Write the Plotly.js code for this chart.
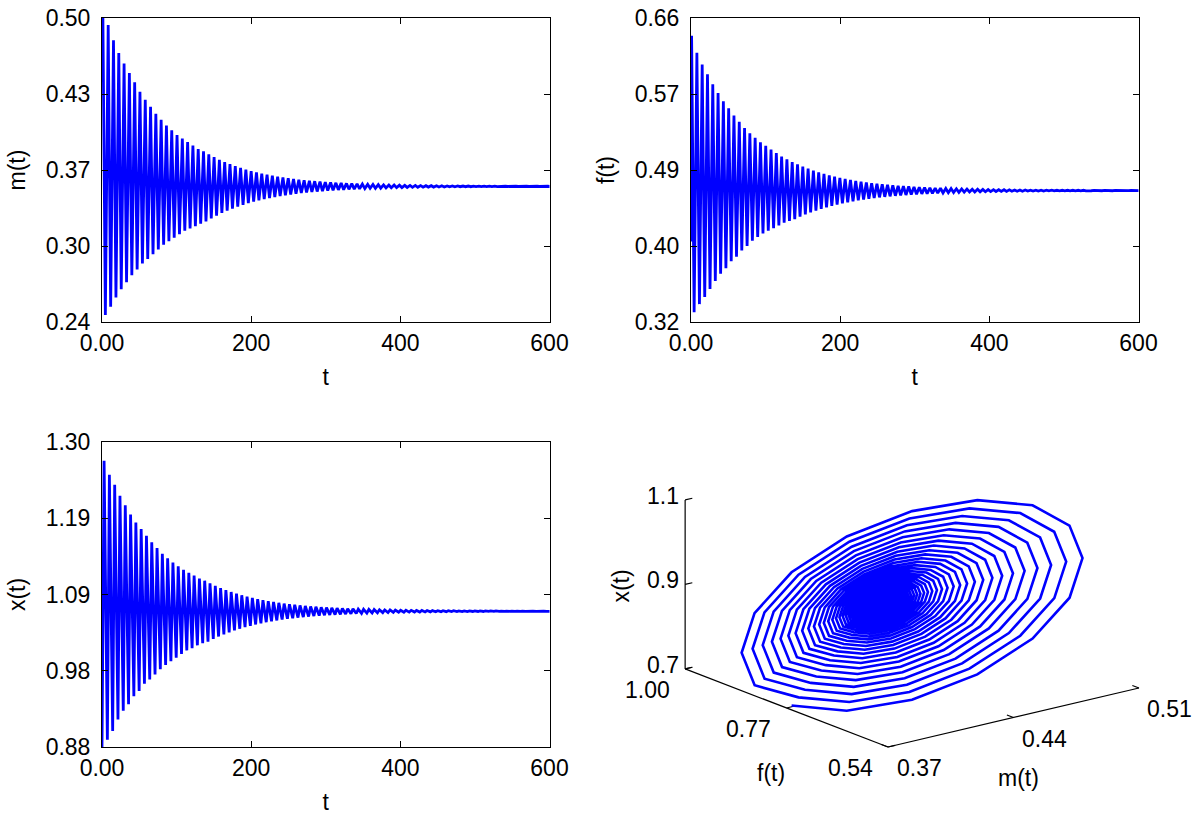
<!DOCTYPE html>
<html>
<head>
<meta charset="utf-8">
<script src="https://cdn.plot.ly/plotly-3.0.1.min.js"></script>
<style>html,body{margin:0;padding:0;background:#fff;}#chart{width:1200px;height:821px;}</style>
</head>
<body>
<div id="chart"></div>
<script>
// ---------- time-series data (successive maxima / minima) ----------
const period = 7.1;
const tTicks = [0, 200, 400, 600];
const tTickText = ['0.00', '200', '400', '600'];

const mInit = 0.50;
const mPeaks = [0.500,0.494,0.481,0.470,0.461,0.453,0.445,0.437,0.430,0.424,
 0.418,0.413,0.408,0.404,0.400,0.397,0.394,0.391,0.388,0.386,
 0.3834,0.3810,0.3788,0.3768,0.3750,0.3733,0.3718,0.3704,0.3691,0.3680,
 0.3669,0.3660,0.3651,0.3643,0.3636,0.3629,0.3623,0.3617,0.3612,0.3608,
 0.3604,0.3600,0.3596,0.3593,0.3590,0.3588,0.3585,0.3583,0.3581,0.3579,
 0.3577,0.3576,0.3575,0.3573,0.3572,0.3571,0.3570,0.3569,0.3568,0.3568,
 0.3567,0.3566,0.3566,0.3565,0.3565,0.3564,0.3564,0.3563,0.3563,0.3563,
 0.3562,0.3562,0.3562,0.3562,0.3562,0.3561,0.3561,0.3561,0.3561,0.3561,
 0.3561,0.3561,0.3561,0.3561,0.3561];
const mTroughs = [0.246,0.253,0.261,0.268,0.274,0.280,0.285,0.290,0.294,0.298,
 0.302,0.306,0.309,0.312,0.315,0.318,0.320,0.322,0.324,0.326,
 0.3286,0.3310,0.3332,0.3352,0.3370,0.3387,0.3402,0.3416,0.3429,0.3440,
 0.3451,0.3460,0.3469,0.3477,0.3484,0.3491,0.3497,0.3503,0.3508,0.3512,
 0.3516,0.3520,0.3524,0.3527,0.3530,0.3532,0.3535,0.3537,0.3539,0.3541,
 0.3543,0.3544,0.3545,0.3547,0.3548,0.3549,0.3550,0.3551,0.3552,0.3552,
 0.3553,0.3554,0.3554,0.3555,0.3555,0.3556,0.3556,0.3557,0.3557,0.3557,
 0.3558,0.3558,0.3558,0.3558,0.3558,0.3559,0.3559,0.3559,0.3559,0.3559,
 0.3559,0.3559,0.3559,0.3559,0.3559];
const mTickVals = [0.24, 0.305, 0.37, 0.435, 0.50];
const mTickText = ['0.24', '0.30', '0.37', '0.43', '0.50'];

const fInit = 0.41;
const fPeaks = [0.640,0.621,0.608,0.597,0.586,0.576,0.567,0.559,0.551,0.544,
 0.537,0.531,0.526,0.521,0.517,0.513,0.509,0.505,0.502,0.499,
 0.4963,0.4938,0.4915,0.4894,0.4875,0.4857,0.4841,0.4826,0.4813,0.4801,
 0.4790,0.4779,0.4770,0.4761,0.4753,0.4746,0.4740,0.4734,0.4728,0.4723,
 0.4719,0.4715,0.4711,0.4707,0.4704,0.4701,0.4698,0.4696,0.4694,0.4692,
 0.4690,0.4688,0.4686,0.4685,0.4684,0.4683,0.4681,0.4680,0.4679,0.4679,
 0.4678,0.4677,0.4677,0.4676,0.4675,0.4675,0.4675,0.4674,0.4674,0.4673,
 0.4673,0.4673,0.4673,0.4673,0.4673,0.4672,0.4672,0.4672,0.4672,0.4672,
 0.4671,0.4671,0.4671,0.4671,0.4671];
const fTroughs = [0.331,0.340,0.348,0.357,0.366,0.374,0.380,0.388,0.393,0.400,
 0.405,0.411,0.415,0.419,0.422,0.425,0.428,0.431,0.433,0.435,
 0.4377,0.4402,0.4425,0.4446,0.4465,0.4483,0.4499,0.4514,0.4527,0.4539,
 0.4550,0.4561,0.4570,0.4579,0.4587,0.4594,0.4600,0.4606,0.4612,0.4617,
 0.4621,0.4625,0.4629,0.4633,0.4636,0.4639,0.4642,0.4644,0.4646,0.4648,
 0.4650,0.4652,0.4654,0.4655,0.4656,0.4657,0.4659,0.4660,0.4661,0.4661,
 0.4662,0.4663,0.4663,0.4664,0.4665,0.4665,0.4665,0.4666,0.4666,0.4667,
 0.4667,0.4667,0.4667,0.4667,0.4667,0.4668,0.4668,0.4668,0.4668,0.4668,
 0.4669,0.4669,0.4669,0.4669,0.4669];
const fTickVals = [0.32, 0.405, 0.49, 0.575, 0.66];
const fTickText = ['0.32', '0.40', '0.49', '0.57', '0.66'];

const xInit = 0.88;
const xPeaks = [1.274,1.255,1.241,1.226,1.213,1.200,1.189,1.180,1.171,1.162,
 1.154,1.146,1.140,1.134,1.129,1.124,1.120,1.116,1.112,1.109,
 1.1053,1.1019,1.0989,1.0961,1.0935,1.0912,1.0890,1.0871,1.0853,1.0837,
 1.0822,1.0809,1.0797,1.0785,1.0775,1.0766,1.0758,1.0750,1.0743,1.0736,
 1.0730,1.0725,1.0720,1.0716,1.0712,1.0708,1.0705,1.0702,1.0699,1.0696,
 1.0694,1.0692,1.0690,1.0688,1.0687,1.0685,1.0684,1.0683,1.0682,1.0681,
 1.0680,1.0679,1.0678,1.0677,1.0677,1.0676,1.0676,1.0675,1.0675,1.0674,
 1.0674,1.0674,1.0673,1.0673,1.0673,1.0672,1.0672,1.0672,1.0672,1.0672,
 1.0671,1.0671,1.0671,1.0671,1.0671];
const xTroughs = [0.890,0.902,0.918,0.930,0.939,0.950,0.957,0.967,0.973,0.980,
 0.987,0.993,0.998,1.003,1.008,1.013,1.016,1.020,1.023,1.025,
 1.0287,1.0321,1.0351,1.0379,1.0405,1.0428,1.0450,1.0469,1.0487,1.0503,
 1.0518,1.0531,1.0543,1.0555,1.0565,1.0574,1.0582,1.0590,1.0597,1.0604,
 1.0610,1.0615,1.0620,1.0624,1.0628,1.0632,1.0635,1.0638,1.0641,1.0644,
 1.0646,1.0648,1.0650,1.0652,1.0653,1.0655,1.0656,1.0657,1.0658,1.0659,
 1.0660,1.0661,1.0662,1.0663,1.0663,1.0664,1.0664,1.0665,1.0665,1.0666,
 1.0666,1.0666,1.0667,1.0667,1.0667,1.0668,1.0668,1.0668,1.0668,1.0668,
 1.0669,1.0669,1.0669,1.0669,1.0669];
const xTickVals = [0.88, 0.985, 1.09, 1.195, 1.30];
const xTickText = ['0.88', '0.98', '1.09', '1.19', '1.30'];

// time of first maximum and max->min delay for each series
const mFirstPeak = 1.2, mDrop = 3.3;
const fFirstPeak = 0.8, fDrop = 3.4;
const xFirstPeak = 2.8, xDrop = 4.4;

// ---------- phase-portrait data ----------
const pEqM = 0.428, pEqF = 0.797, pEqX = 0.876;
// one turn of the outermost loop, as offsets from the equilibrium
const loopM = [-0.0572,-0.0479,-0.0294,-0.0046,0.0227,0.0484,0.0685,0.0800,0.0812,0.0719,0.0534,0.0286,0.0013,-0.0244,-0.0445,-0.0560];
const loopF = [-0.0351,-0.1224,-0.1952,-0.2424,-0.2568,-0.2362,-0.1838,-0.1075,-0.0189,0.0684,0.1412,0.1884,0.2028,0.1822,0.1298,0.0535];
const loopX = [-0.2063,-0.1898,-0.1457,-0.0807,-0.0047,0.0707,0.1341,0.1758,0.1893,0.1728,0.1287,0.0637,-0.0123,-0.0877,-0.1511,-0.1928];
// relative size of each successive loop
const loopSize = [1.000,0.920,0.846,0.779,0.716,0.659,0.606,0.558,0.513,0.472,
 0.434,0.400,0.368,0.338,0.311,0.286,0.263,0.242,0.223,0.205,
 0.189,0.174,0.160,0.147,0.135,0.124,0.114,0.105,0.097,0.089,
 0.082,0.075,0.069,0.064,0.059,0.054,0.050,0.046,0.042,0.039,
 0.036,0.033,0.030,0.028,0.026,0.024,0.022,0.020,0.018,0.017,
 0.015,0.014,0.013,0.012,0.011,0.010];
const pRangeM = [0.37, 0.51], pTickM = [0.37, 0.44, 0.51], pTickMText = ['0.37', '0.44', '0.51'];
const pRangeF = [0.54, 1.00], pTickF = [0.54, 0.77, 1.00], pTickFText = ['0.54', '0.77', '1.00'];
const pRangeX = [0.66, 1.14], pTickX = [0.66, 0.90, 1.14], pTickXText = ['0.7', '0.9', '1.1'];

// ---------- build time series ----------
function series(init, peaks, troughs, first, drop) {
  const t = [0], y = [init];
  for (let k = 0; k < peaks.length; k++) {
    t.push(first + k * period); y.push(peaks[k]);
    t.push(first + k * period + drop); y.push(troughs[k]);
  }
  return {t, y};
}
const sm = series(mInit, mPeaks, mTroughs, mFirstPeak, mDrop);
const sf = series(fInit, fPeaks, fTroughs, fFirstPeak, fDrop);
const sx = series(xInit, xPeaks, xTroughs, xFirstPeak, xDrop);

// ---------- 3-D trajectory + orthographic view (no WebGL in the renderer) ----------
const pm = [], pf = [], px = [];
for (let k = 0; k < loopSize.length; k++) {
  for (let j = 0; j < loopM.length; j++) {
    pm.push(pEqM + loopSize[k] * loopM[j]);
    pf.push(pEqF + loopSize[k] * loopF[j]);
    px.push(pEqX + loopSize[k] * loopX[j]);
  }
}

// view: azimuth / elevation and box edge lengths (pixels), origin = front-bottom corner
const VIEW = {ox: 888, oy: 747, az: 52 * Math.PI / 180, el: 17.5 * Math.PI / 180, lx: 318.5, ly: 329.5, lz: 177.2};
function proj(m, f, z) {
  const X = (m - pRangeM[0]) / (pRangeM[1] - pRangeM[0]) * VIEW.lx;
  const Y = (f - pRangeF[0]) / (pRangeF[1] - pRangeF[0]) * VIEW.ly;
  const Z = (z - pRangeX[0]) / (pRangeX[1] - pRangeX[0]) * VIEW.lz;
  const sa = Math.sin(VIEW.az), ca = Math.cos(VIEW.az), se = Math.sin(VIEW.el), ce = Math.cos(VIEW.el);
  return [VIEW.ox + X * sa - Y * ca, VIEW.oy - (X * ca * se + Y * sa * se + Z * ce)];
}
function projList(ms, fs, zs) {
  const a = [], b = [];
  for (let i = 0; i < ms.length; i++) {
    if (ms[i] === null) { a.push(null); b.push(null); continue; }
    const p = proj(ms[i], fs[i], zs[i]); a.push(p[0]); b.push(p[1]);
  }
  return [a, b];
}
const spiral = projList(pm, pf, px);

// axis lines + tick marks of the 3-D box
const m0 = pRangeM[0], m1 = pRangeM[1], f0 = pRangeF[0], f1 = pRangeF[1], z0 = pRangeX[0], z1 = pRangeX[1];
const am = [m0, m1, null, m0, m0, null, m0, m0];
const af = [f0, f0, null, f0, f1, null, f1, f1];
const az = [z0, z0, null, z0, z0, null, z0, z1];
pTickM.forEach(v => { am.push(null, v, v); af.push(null, f0, f0 + 0.015); az.push(null, z0, z0); });
pTickF.forEach(v => { am.push(null, m0, m0 + 0.004); af.push(null, v, v); az.push(null, z0, z0); });
pTickX.forEach(v => { am.push(null, m0, m0 + 0.004); af.push(null, f1, f1); az.push(null, v, v); });
const axesLines = projList(am, af, az);

const FONT = 'Liberation Sans, Arial, Helvetica, sans-serif';
const blue = '#0000ff';
const lw = 2.8;

const traces = [
  {x: sm.t, y: sm.y, type: 'scatter', mode: 'lines', line: {color: blue, width: lw}, xaxis: 'x', yaxis: 'y'},
  {x: sf.t, y: sf.y, type: 'scatter', mode: 'lines', line: {color: blue, width: lw}, xaxis: 'x2', yaxis: 'y2'},
  {x: sx.t, y: sx.y, type: 'scatter', mode: 'lines', line: {color: blue, width: lw}, xaxis: 'x3', yaxis: 'y3'},
  {x: axesLines[0], y: axesLines[1], type: 'scatter', mode: 'lines', line: {color: '#000', width: 1.2}, xaxis: 'x4', yaxis: 'y4'},
  {x: spiral[0], y: spiral[1], type: 'scatter', mode: 'lines', line: {color: blue, width: 2.6}, xaxis: 'x4', yaxis: 'y4'}
];

const W = 1200, H = 821;
const tfont = {family: FONT, size: 23, color: '#000'};
function xa(l, r, extra) {
  return Object.assign({
    domain: [l / W, r / W], range: [0, 600], tickvals: tTicks, ticktext: tTickText,
    ticks: 'inside', ticklen: 6, tickcolor: '#000', showline: true, mirror: 'ticks',
    linecolor: '#000', linewidth: 1, showgrid: false, zeroline: false,
    tickfont: tfont, title: {text: 't', font: tfont, standoff: 14}
  }, extra);
}
function ya(top, bot, range, vals, text, title, extra) {
  return Object.assign({
    domain: [1 - bot / H, 1 - top / H], range: range, tickvals: vals, ticktext: text,
    ticks: 'inside', ticklen: 6, tickcolor: '#000', showline: true, mirror: 'ticks',
    linecolor: '#000', linewidth: 1, showgrid: false, zeroline: false,
    ticklabelstandoff: 6, tickfont: tfont, title: {text: title, font: tfont, standoff: 13}
  }, extra);
}

// tick labels / titles of the 3-D box as annotations placed through the projection
const ann = [];
function addAnn(p, text, dx, dy, extra) {
  ann.push(Object.assign({xref: 'x4', yref: 'y4', x: p[0], y: p[1], text: text, showarrow: false,
    xshift: dx, yshift: -dy, font: tfont, xanchor: 'center', yanchor: 'middle'}, extra || {}));
}
pTickM.forEach((v, i) => addAnn(proj(v, f0, z0), pTickMText[i], 31, 21));
pTickF.forEach((v, i) => addAnn(proj(m0, v, z0), pTickFText[i], -38, 21));
pTickX.forEach((v, i) => addAnn(proj(m0, f1, v), pTickXText[i], -4, -4, {xanchor: 'right'}));
addAnn(proj((m0 + m1) / 2, f0, z0), 'm(t)', 5, 60);
addAnn(proj(m0, (f0 + f1) / 2, z0), 'f(t)', -16, 65);
addAnn(proj(m0, f1, (z0 + z1) / 2), 'x(t)', -64, 2, {textangle: -90});

const layout = {
  width: W, height: H, margin: {l: 0, r: 0, t: 0, b: 0},
  paper_bgcolor: '#fff', plot_bgcolor: 'rgba(0,0,0,0)', showlegend: false,
  font: tfont,
  xaxis: xa(102, 549.5, {anchor: 'y'}),
  yaxis: ya(18, 322, [0.24, 0.50], mTickVals, mTickText, 'm(t)', {anchor: 'x'}),
  xaxis2: xa(691, 1138.5, {anchor: 'y2'}),
  yaxis2: ya(18, 322, [0.32, 0.66], fTickVals, fTickText, 'f(t)', {anchor: 'x2'}),
  xaxis3: xa(102, 549.5, {anchor: 'y3'}),
  yaxis3: ya(442, 747, [0.88, 1.30], xTickVals, xTickText, 'x(t)', {anchor: 'x3'}),
  xaxis4: {domain: [560 / W, 1], range: [560, 1200], visible: false, anchor: 'y4'},
  yaxis4: {domain: [0, 1 - 430 / H], range: [821, 430], visible: false, anchor: 'x4'},
  annotations: ann
};
Plotly.newPlot('chart', traces, layout, {staticPlot: true, displayModeBar: false});
</script>
</body>
</html>
